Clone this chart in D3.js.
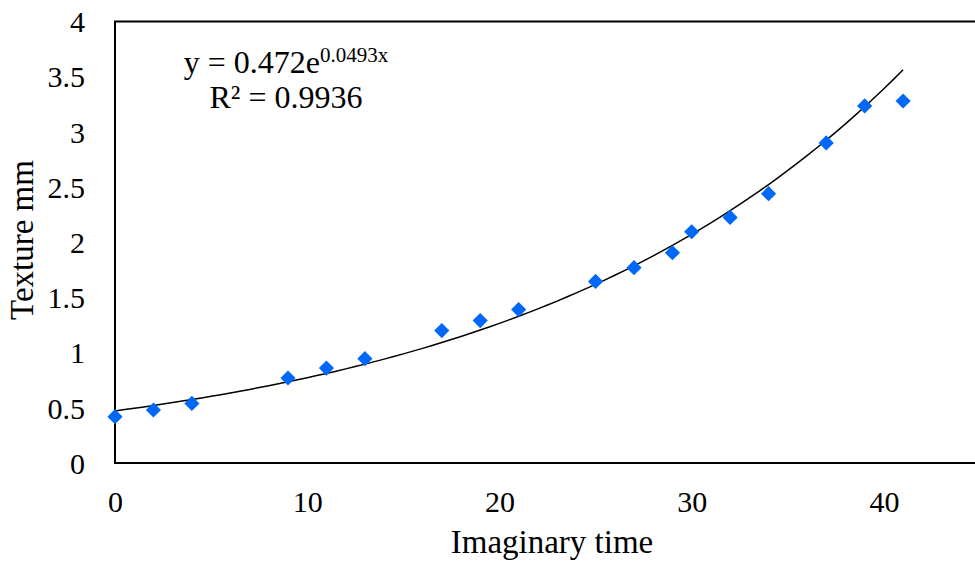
<!DOCTYPE html>
<html>
<head>
<meta charset="utf-8">
<script src="https://cdn.jsdelivr.net/npm/d3@7"></script>
<style>
  body { margin: 0; background: #fff; }
  svg text { font-family: "Liberation Serif", "Times New Roman", serif; }
</style>
</head>
<body>
<script>
// data
const timeVals = [0, 2, 4, 9, 11, 13, 17, 19, 21, 25, 27, 29, 30, 32, 34, 37, 39, 41];
const textureVals = [0.42, 0.48, 0.54, 0.77, 0.86, 0.945, 1.20, 1.29, 1.39, 1.645, 1.77, 1.905, 2.095, 2.225, 2.44, 2.90, 3.235, 3.28];
const xTicks = [0, 10, 20, 30, 40];
const yTicks = [0, 0.5, 1, 1.5, 2, 2.5, 3, 3.5, 4];
const fitA = 0.472, fitB = 0.0493;

const width = 975, height = 568;
const margin = {top: 21.5, right: -5, bottom: 105, left: 115};

var svg = d3.select("body")
            .append("svg")
            .attr("width", width)
            .attr("height", height);

const x = d3.scaleLinear().domain([0, 45]).range([margin.left, width - margin.right]);
const y = d3.scaleLinear().domain([0, 4]).range([height - margin.bottom, margin.top]);

// frame (right side falls outside the picture)
svg.append("path")
   .attr("d", "M" + x(45) + "," + y(4) + "H" + x(0) + "V" + y(0) + "H" + x(45))
   .attr("fill", "none")
   .attr("stroke", "#000")
   .attr("stroke-width", 2);

// axes: labels only
var yAxis = svg.append("g")
   .attr("transform", "translate(" + (x(0) - 30) + ",0)")
   .call(d3.axisLeft(y).tickValues(yTicks).tickSize(0).tickPadding(0).tickFormat(d3.format("")));
var xAxis = svg.append("g")
   .attr("transform", "translate(0," + (y(0) + 22) + ")")
   .call(d3.axisBottom(x).tickValues(xTicks).tickSize(0).tickPadding(0));
[yAxis, xAxis].forEach(function(a) {
  a.attr("font-family", null).attr("font-size", null);
  a.select(".domain").remove();
  a.selectAll("text")
   .style("font-family", "'Liberation Serif', serif")
   .style("font-size", "30px")
   .attr("fill", "#000");
});
yAxis.selectAll("text").attr("dy", "0.34em");
xAxis.selectAll("text").attr("dy", "0.9em");

// exponential trendline
const fitX = d3.range(0, 41.01, 0.5);
svg.append("path")
   .datum(fitX)
   .attr("fill", "none")
   .attr("stroke", "#000")
   .attr("stroke-width", 1.5)
   .attr("d", d3.line()
      .x(function(d) { return x(d); })
      .y(function(d) { return y(fitA * Math.exp(fitB * d)); }));

// markers
svg.append("g")
   .selectAll("path")
   .data(timeVals)
   .enter()
   .append("path")
   .attr("transform", function(d, i) { return "translate(" + x(d) + "," + y(textureVals[i]) + ") rotate(45)"; })
   .attr("d", d3.symbol(d3.symbolSquare, 115))
   .attr("fill", "#0068F8");

// equation
var eq = svg.append("text")
   .attr("x", 286)
   .attr("y", 73)
   .attr("text-anchor", "middle")
   .style("font-size", "32px");
eq.append("tspan").text("y = 0.472e");
eq.append("tspan").style("font-size", "21px").attr("dy", -11).text("0.0493x");
svg.append("text")
   .attr("x", 286)
   .attr("y", 108)
   .attr("text-anchor", "middle")
   .style("font-size", "32px")
   .text("R² = 0.9936");

// axis titles
svg.append("text")
   .attr("x", 552)
   .attr("y", 553)
   .attr("text-anchor", "middle")
   .style("font-size", "33px")
   .text("Imaginary time");
svg.append("text")
   .attr("transform", "translate(33," + 240 + ") rotate(-90)")
   .attr("text-anchor", "middle")
   .style("font-size", "33px")
   .text("Texture mm");
</script>
</body>
</html>
